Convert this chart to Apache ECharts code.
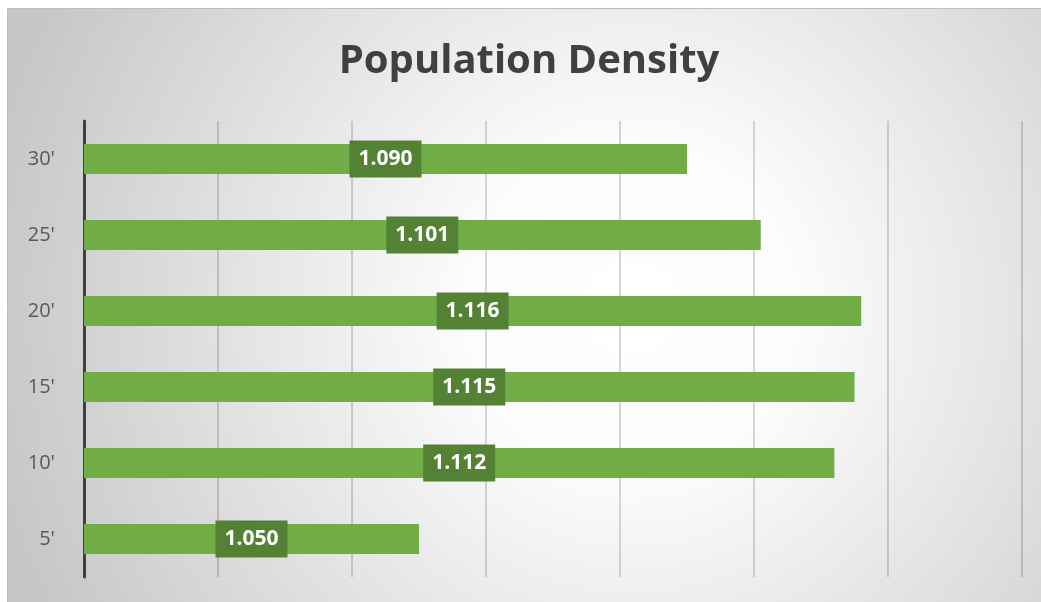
<!DOCTYPE html>
<html>
<head>
<meta charset="utf-8">
<script src="https://cdn.jsdelivr.net/npm/echarts@6/dist/echarts.min.js"></script>
<style>
html,body{margin:0;padding:0;background:#fff;}
#chart{width:1041px;height:602px;}
</style>
</head>
<body>
<div id="chart"></div>
<script>
var categories = ["5'", "10'", "15'", "20'", "25'", "30'"];
var densities = [1.050, 1.112, 1.115, 1.116, 1.101, 1.090];
var axisMin = 1.0;
var axisMax = 1.14;
var axisStep = 0.02;
var chartTitle = 'Population Density';

var chart = echarts.init(document.getElementById('chart'));
chart.setOption({
  animation: false,
  backgroundColor: '#ffffff',
  graphic: [{
    type: 'rect',
    z: -10,
    silent: true,
    shape: {x: 7.5, y: 8.5, width: 1040, height: 600},
    style: {
      fill: {
        type: 'radial', x: 0.6, y: 0.5, r: 1.1,
        colorStops: [
          {offset: 0, color: '#ffffff'},
          {offset: 0.25, color: '#fcfcfc'},
          {offset: 1, color: '#c6c6c6'}
        ]
      },
      stroke: '#bdbdbd',
      lineWidth: 1
    }
  }],
  title: {
    text: chartTitle,
    left: 524,
    top: 37,
    textAlign: 'center',
    textStyle: {
      fontFamily: 'Open Sans',
      fontWeight: 'bold',
      fontSize: 40,
      color: '#404040'
    }
  },
  grid: {left: 84, right: 19, top: 121, bottom: 25, containLabel: false},
  xAxis: {
    type: 'value',
    min: axisMin,
    max: axisMax,
    interval: axisStep,
    axisLabel: {show: false},
    axisLine: {show: false},
    axisTick: {show: false},
    splitLine: {show: true, lineStyle: {color: 'rgba(0,0,0,0.2)', width: 1.5}}
  },
  yAxis: {
    type: 'category',
    data: categories,
    axisLine: {show: true, lineStyle: {color: '#404040', width: 3}},
    axisTick: {show: false},
    axisLabel: {
      margin: 29,
      fontFamily: 'Open Sans',
      fontSize: 20,
      color: '#595959'
    }
  },
  series: [{
    type: 'bar',
    data: densities,
    barWidth: 30,
    itemStyle: {color: '#70AD47'},
    label: {
      show: true,
      position: 'inside',
      formatter: function (p) { return p.value.toFixed(3); },
      fontFamily: 'Open Sans',
      fontWeight: 'bold',
      fontSize: 21,
      lineHeight: 21,
      color: '#ffffff',
      backgroundColor: '#548235',
      padding: [8, 9, 8, 9]
    }
  }]
});
</script>
</body>
</html>
